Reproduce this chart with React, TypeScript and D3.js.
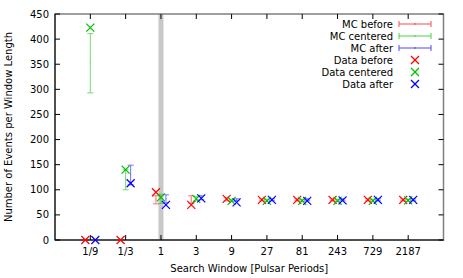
import React from "react";
import * as d3 from "d3";

const categories = [1 / 9, 1 / 3, 1, 3, 9, 27, 81, 243, 729, 2187];
const tickLabels = ["1/9", "1/3", "1", "3", "9", "27", "81", "243", "729", "2187"];
const yTicks = [0, 50, 100, 150, 200, 250, 300, 350, 400, 450];

const dataBefore = [0, 0, 95, 70, 82, 80, 80, 80, 80, 80];
const dataCentered = [423, 140, 85, 82, 78, 78, 78, 78, 78, 79];
const dataAfter = [0, 113, 70, 83, 75, 80, 78, 79, 80, 80];

const mcBeforeMid = [0, 0, 80, 80, 81, 80, 80, 80, 80, 80];
const mcBeforeLo = [0, 0, 72, 73, 78, 78, 78, 78, 78, 78];
const mcBeforeHi = [0, 0, 88, 88, 84, 82, 82, 82, 82, 82];

const mcCenteredMid = [352, 120, 82, 82, 79, 79, 79, 79, 79, 79];
const mcCenteredLo = [293, 100, 73, 78, 77, 77, 77, 77, 77, 77];
const mcCenteredHi = [411, 140, 91, 87, 81, 81, 81, 81, 81, 81];

const mcAfterMid = [0, 130, 82, 84, 80, 80, 80, 80, 80, 80];
const mcAfterLo = [0, 110, 74, 80, 78, 78, 78, 78, 78, 78];
const mcAfterHi = [0, 149, 90, 88, 82, 82, 82, 82, 82, 82];

const W = 463, H = 278;
const L = 55, R = 443.5, T = 14, B = 240;
const FONT = "DejaVu Sans";

const RED = "#ff0000", GREEN = "#00c000", BLUE = "#0000ff";

export default function App() {
  const x = d3.scaleLog().base(3).domain([1 / 27, 6561]).range([L, R]);
  const y = d3.scaleLinear().domain([0, 450]).range([B, T]);
  const off = 5;

  const cross = (cx: number, cy: number, color: string, key: string) => (
    <g key={key} stroke={color} strokeWidth={1.2}>
      <line x1={cx - 4} y1={cy - 4} x2={cx + 4} y2={cy + 4} />
      <line x1={cx - 4} y1={cy + 4} x2={cx + 4} y2={cy - 4} />
    </g>
  );

  const errbar = (cx: number, mid: number, lo: number, hi: number, color: string, key: string) => {
    if (hi === lo) return null;
    return (
      <g key={key} stroke={color} strokeWidth={1} opacity={0.55}>
        <line x1={cx} x2={cx} y1={y(lo)} y2={y(hi)} />
        <line x1={cx - 3} x2={cx + 3} y1={y(lo)} y2={y(lo)} />
        <line x1={cx - 3} x2={cx + 3} y1={y(hi)} y2={y(hi)} />
        <rect x={cx - 0.5} y={y(mid) - 0.5} width={1} height={1} fill={color} stroke="none" />
      </g>
    );
  };

  const series = [
    { mid: mcBeforeMid, lo: mcBeforeLo, hi: mcBeforeHi, color: RED, dx: -off },
    { mid: mcCenteredMid, lo: mcCenteredLo, hi: mcCenteredHi, color: GREEN, dx: 0 },
    { mid: mcAfterMid, lo: mcAfterLo, hi: mcAfterHi, color: BLUE, dx: off },
  ];
  const dataSeries = [
    { v: dataBefore, color: RED, dx: -off },
    { v: dataCentered, color: GREEN, dx: 0 },
    { v: dataAfter, color: BLUE, dx: off },
  ];

  const legendMC = ["MC before", "MC centered", "MC after"];
  const legendData = ["Data before", "Data centered", "Data after"];
  const legColors = [RED, GREEN, BLUE];
  const legY0 = 24, legDy = 12;

  const xc = x(1);

  return (
    <svg width={W} height={H} style={{ position: "absolute", left: 0, top: 0 }} fontFamily={FONT} fontSize={10}>
      <rect x={0} y={0} width={W} height={H} fill="#fff" />
      <rect x={xc - 2.5} y={T} width={5} height={B - T} fill="#c8c8c8" />
      {/* border */}
      <rect x={L} y={T} width={R - L} height={B - T} fill="none" stroke="#808080" strokeWidth={1.5} />
      <line x1={L} x2={L} y1={T} y2={B} stroke="#000" strokeWidth={1} />
      <line x1={L} x2={R} y1={B} y2={B} stroke="#000" strokeWidth={1} />
      {/* y ticks */}
      {yTicks.map((t) => (
        <g key={"y" + t}>
          <line x1={L} x2={L + 5} y1={y(t)} y2={y(t)} stroke="#000" />
          <line x1={R - 5} x2={R} y1={y(t)} y2={y(t)} stroke="#000" />
          <text x={L - 6} y={y(t)} dy="0.35em" textAnchor="end" fill="#000">{t}</text>
        </g>
      ))}
      {/* x ticks */}
      {categories.map((c, i) => (
        <g key={"x" + i}>
          <line x1={x(c)} x2={x(c)} y1={B} y2={B - 5} stroke="#000" />
          <line x1={x(c)} x2={x(c)} y1={T} y2={T + 5} stroke="#000" />
          <text x={x(c)} y={B + 15} textAnchor="middle" fill="#000">{tickLabels[i]}</text>
        </g>
      ))}
      <text x={(L + R) / 2} y={B + 32} textAnchor="middle" fill="#000">Search Window [Pulsar Periods]</text>
      <text transform={`translate(12,${(T + B) / 2}) rotate(-90)`} textAnchor="middle" fill="#000">Number of Events per Window Length</text>
      {/* MC error bars */}
      {series.map((s, si) =>
        categories.map((c, i) => errbar(x(c) + s.dx, s.mid[i], s.lo[i], s.hi[i], s.color, `e${si}-${i}`))
      )}
      {/* data crosses */}
      {dataSeries.map((s, si) =>
        categories.map((c, i) => cross(x(c) + s.dx, y(s.v[i]), s.color, `d${si}-${i}`))
      )}
      {/* legend */}
      {legendMC.map((lab, i) => {
        const ly = legY0 + i * legDy;
        return (
          <g key={"lm" + i}>
            <text x={393} y={ly} dy="0.35em" textAnchor="end" fill="#000">{lab}</text>
            <g stroke={legColors[i]} opacity={0.7}>
              <line x1={399} x2={431} y1={ly} y2={ly} />
              <line x1={399} x2={399} y1={ly - 3} y2={ly + 3} />
              <line x1={431} x2={431} y1={ly - 3} y2={ly + 3} />
              <line x1={415} x2={415} y1={ly - 1} y2={ly + 1} />
            </g>
          </g>
        );
      })}
      {legendData.map((lab, i) => {
        const ly = legY0 + (i + 3) * legDy;
        return (
          <g key={"ld" + i}>
            <text x={393} y={ly} dy="0.35em" textAnchor="end" fill="#000">{lab}</text>
            {cross(415, ly, legColors[i], "lc" + i)}
          </g>
        );
      })}
    </svg>
  );
}
